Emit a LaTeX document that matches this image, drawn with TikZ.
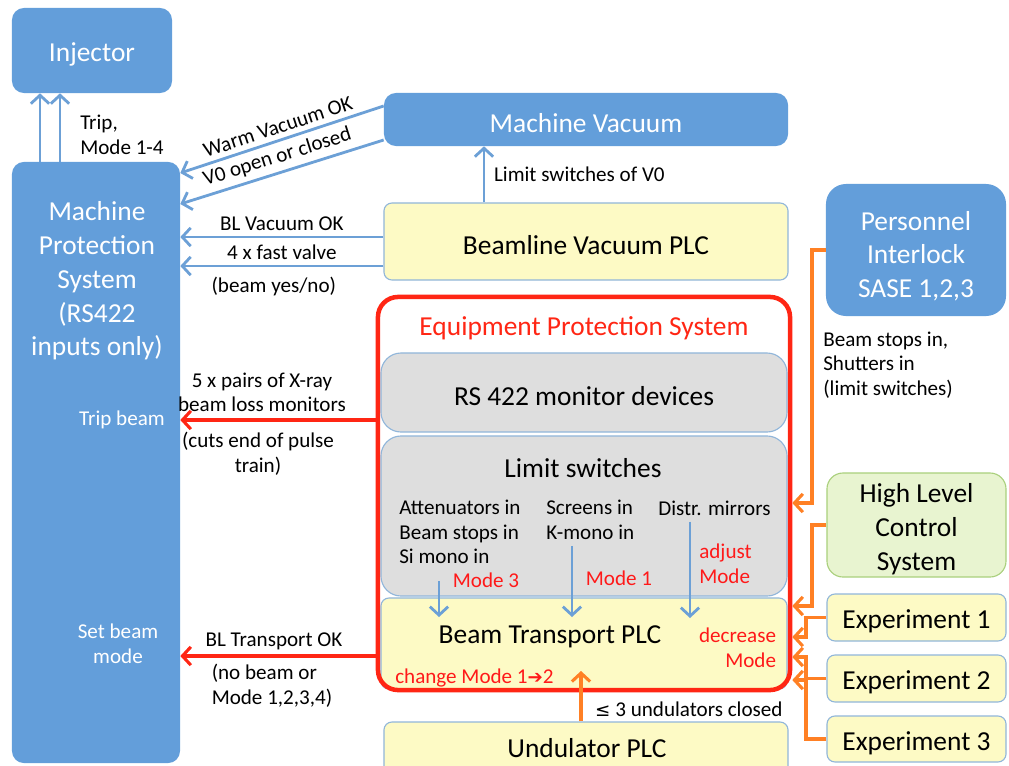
\documentclass[tikz,border=0pt]{standalone}
\usepackage{fontspec}
\setmainfont{Carlito}
\newfontfamily\symfont{DejaVu Sans}
\usetikzlibrary{arrows.meta,positioning,calc}

\definecolor{mpsblue}{RGB}{99,158,218}
\definecolor{lineblue}{RGB}{108,160,214}
\definecolor{plcyellow}{RGB}{253,250,197}
\definecolor{plcedge}{RGB}{145,182,218}
\definecolor{devgray}{RGB}{222,222,222}
\definecolor{epsred}{RGB}{255,38,20}
\definecolor{modered}{RGB}{255,25,25}
\definecolor{ctrlorange}{RGB}{255,128,36}
\definecolor{hlcgreen}{RGB}{232,244,208}
\definecolor{hlcedge}{RGB}{170,208,125}

\tikzset{
  titlefont/.style={font=\fontsize{19.5}{24}\selectfont},
  labelfont/.style={font=\fontsize{15}{17.5}\selectfont},
  boxtext/.style={titlefont, align=center, yshift=-0.1cm},
  bluebox/.style={fill=mpsblue, rounded corners=0.3cm, inner sep=0pt},
  plcbox/.style={draw=plcedge, line width=0.8pt, fill=plcyellow,
    rounded corners=0.2cm, inner sep=0pt},
  devbox/.style={draw=plcedge, line width=0.8pt, fill=devgray,
    rounded corners=0.5cm, inner sep=0pt},
  hlcbox/.style={draw=hlcedge, line width=0.8pt, fill=hlcgreen,
    rounded corners=0.4cm, inner sep=0pt},
  epsframe/.style={draw=epsred, line width=3.2pt, rounded corners=0.5cm,
    inner sep=0pt},
  bluearrow/.style={->, draw=lineblue, line width=2pt},
  redarrow/.style={->, draw=epsred, line width=2.2pt},
  orangearrow/.style={->, draw=ctrlorange, line width=2.2pt},
  redtext/.style={text=modered, labelfont},
  textblock/.style={labelfont, align=left, anchor=west, inner sep=0pt},
}

\begin{document}
\begin{tikzpicture}[%
    x=0.025cm, y=-0.025cm,
    >={Straight Barb[length=6pt,width=13pt]},
  ]
  \useasboundingbox (0,0) rectangle (1009,765);

  \node[bluebox, minimum width=4cm, minimum height=2.125cm,
    label={[boxtext, text=white]center:Injector}] (inj) at (92,50.5) {};
  \node[bluebox, minimum width=4.2cm, minimum height=15.025cm] (mps) at (96,462.5) {};
  \node[text=white, titlefont, align=center] (mpstext) at (97,281)
    {Machine\\Protection\\System\\(RS422\\inputs only)};
  \node[text=white, labelfont] (tripbeam) at (122,420) {Trip beam};
  \node[text=white, labelfont, align=center] (setmode) at (118,644) {Set beam\\mode};

  \node[bluebox, minimum width=10.1cm, minimum height=1.325cm,
    label={[boxtext, text=white]center:Machine Vacuum}] (mv) at (586,119.5) {};
  \node[plcbox, minimum width=10.1cm, minimum height=1.925cm,
    label={[boxtext]center:Beamline Vacuum PLC}] (bvp) at (586,241.5) {};
  \node[bluebox, rounded corners=0.5cm, minimum width=4.5cm, minimum height=3.3cm,
    label={[boxtext, text=white, yshift=-0.05cm]center:{Personnel\\Interlock\\SASE 1,2,3}}] (pi) at (916,250) {};
  \node[textblock] (pilabel) at (823,365)
    {Beam stops in,\\Shutters in\\(limit switches)};

  % equipment protection system
  \node[devbox, minimum width=10.15cm, minimum height=1.975cm,
    label={[boxtext]center:RS 422 monitor devices}] (rs) at (584,392.5) {};
  \node[devbox, minimum width=10.15cm, minimum height=4cm] (ls) at (584,516) {};
  \node[titlefont] (lstitle) at (583,468) {Limit switches};
  \node[textblock] (att) at (399,532) {Attenuators in\\Beam stops in\\Si mono in};
  \node[textblock] (scr) at (546,520) {Screens in\\K-mono in};
  \node[textblock] (mir) at (658,508) {Distr. mirrors};
  \node[plcbox, minimum width=10.15cm, minimum height=2.275cm] (btp) at (584,643.5) {};
  \node[titlefont] (btptitle) at (550,637) {Beam Transport PLC};
  \node[epsframe, minimum width=10.3cm, minimum height=9.825cm] (eps) at (584,493.5) {};
  \node[titlefont, text=epsred] (epstitle) at (584,328) {Equipment Protection System};

  \node[redtext] (mode3) at (486,580) {Mode 3};
  \node[redtext] (mode1) at (619,578) {Mode 1};
  \node[redtext, align=left, anchor=west, inner sep=0pt] (adjust) at (699,564) {adjust\\Mode};
  \node[redtext, align=right, anchor=east] (decrease) at (781,648) {decrease\\Mode};
  \node[redtext, anchor=west, inner sep=0pt] (change) at (395,678) {change Mode 1{\symfont\fontsize{13}{15}\selectfont ➔}2};

  \coordinate (atttip) at (439,617);
  \coordinate (scrtip) at (572,617);
  \coordinate (mirtip) at (690,618);
  \draw[bluearrow] (att.south -| atttip) ++(0,17) -- (atttip);
  \draw[bluearrow] (scr.south -| scrtip) ++(0,6) -- (scrtip);
  \draw[bluearrow] (mir.south -| mirtip) ++(0,6) -- (mirtip);

  \node[plcbox, minimum width=10.1cm, minimum height=1.7cm] (und) at (586,756) {};
  \node[titlefont] (undtitle) at (587,748) {Undulator PLC};
  \coordinate (undtip) at (581,671);
  \draw[orangearrow] (und.north -| undtip) -- node[labelfont, right, pos=0.25, xshift=0.2cm]
    {{\symfont\fontsize{13}{15}\selectfont ≤} 3 undulators closed} (undtip);

  \node[hlcbox, minimum width=4.475cm, minimum height=2.6cm,
    label={[boxtext]center:{High Level\\Control\\System}}] (hlc) at (916.5,525) {};
  \node[plcbox, minimum width=4.475cm, minimum height=1.175cm,
    label={[boxtext]center:Experiment 1}] (ex1) at (916.5,617.5) {};
  \node[plcbox, minimum width=4.475cm, minimum height=1.175cm,
    label={[boxtext]center:Experiment 2}] (ex2) at (916.5,678.5) {};
  \node[plcbox, minimum width=4.475cm, minimum height=1.15cm,
    label={[boxtext]center:Experiment 3}] (ex3) at (916.5,739) {};

  % machine protection inputs
  \draw[bluearrow] (mps.north -| 40,0) -- (inj.south -| 40,0);
  \draw[bluearrow] (mps.north -| 60,0) -- (inj.south -| 60,0);
  \node[textblock] (triplabel) at (80,135) {Trip,\\Mode 1-4};

  \draw[bluearrow, <-] (mps.east |- 0,173) -- node[labelfont, sloped, above, inner sep=3.5pt] {Warm Vacuum OK} (mv.west |- 0,106);
  \draw[bluearrow, <-] (mps.east |- 0,204) -- node[labelfont, sloped, above, inner sep=3.5pt] {V0 open or closed} (mv.west |- 0,140);
  \draw[bluearrow] (bvp.north -| 484,0) -- node[labelfont, right, xshift=0.1cm] {Limit switches of V0} (mv.south -| 484,0);
  \draw[bluearrow] (bvp.west |- 0,237) -- node[labelfont, above] {BL Vacuum OK} (mps.east |- 0,237);
  \draw[bluearrow] (bvp.west |- 0,266) -- node[labelfont, above] {4 x fast valve}
    node[labelfont, below, xshift=-0.2cm, yshift=-0.12cm] {(beam yes/no)} (mps.east |- 0,266);

  \draw[redarrow] (eps.west |- 0,420) -- node[labelfont, above, align=center, xshift=-0.4cm, yshift=0.05cm] {5 x pairs of X-ray\\beam loss monitors}
    node[labelfont, below, align=center, xshift=-0.5cm, yshift=-0.15cm] {(cuts end of pulse\\train)} (mps.east |- 0,420);
  \draw[redarrow] (eps.west |- 0,656) -- node[labelfont, above, xshift=-0.1cm] {BL Transport OK}
    node[labelfont, below, align=left, xshift=-0.15cm, yshift=-0.05cm] {(no beam or\\Mode 1,2,3,4)} (mps.east |- 0,656);

  % control inputs to the EPS
  \draw[orangearrow] (pi.west) -- (pi.west -| 812,0) |- (eps.east |- 0,503);
  \draw[orangearrow] (hlc.west) -- (hlc.west -| 812,0) |- (eps.east |- 0,606);
  \draw[orangearrow] (ex1.west) -- (ex1.west -| 806,0) |- (eps.east |- 0,637);
  \draw[orangearrow] (ex2.west) -- (ex2.west -| 806,0) |- (eps.east |- 0,657);
  \draw[orangearrow] (ex3.west) -- (ex3.west -| 806,0) |- (eps.east |- 0,680);

\end{tikzpicture}
\end{document}
